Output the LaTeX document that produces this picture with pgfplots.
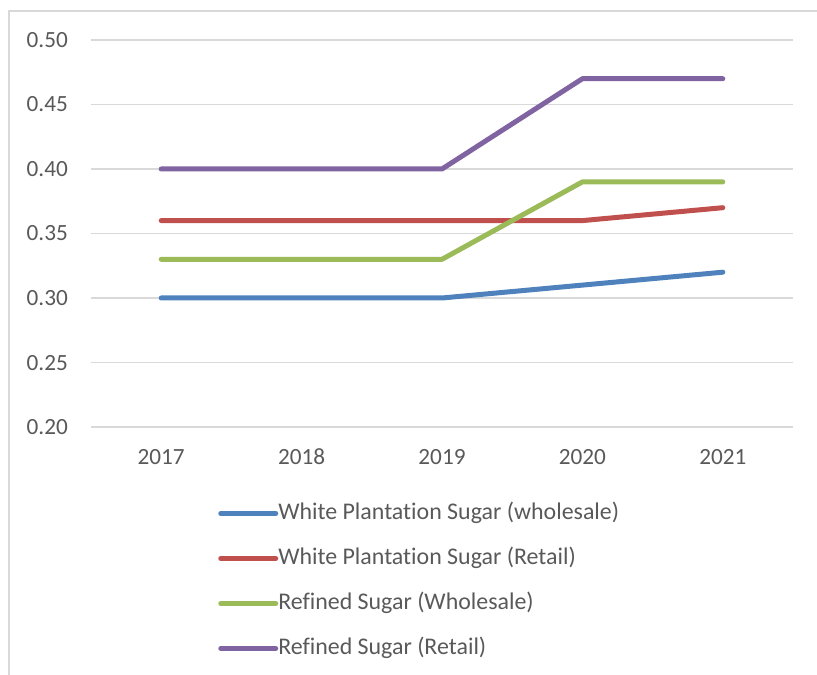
\documentclass[border=0pt]{standalone}
\usepackage{fontspec}
\setmainfont[Ligatures={NoCommon}]{Carlito}
\usepackage{pgfplots}
\pgfplotsset{compat=1.18}
\definecolor{cblue}{HTML}{4F81BD}
\definecolor{cred}{HTML}{C0504D}
\definecolor{cgreen}{HTML}{9BBB59}
\definecolor{cpurple}{HTML}{8064A2}
\definecolor{gridc}{HTML}{D9D9D9}
\definecolor{textc}{HTML}{595959}
\begin{document}
\fontsize{23}{27}\selectfont
\begin{tikzpicture}
\draw[color=gridc, line width=1.3bp] (9bp,-5bp) -- (9bp,664bp) -- (830bp,664bp);
\begin{axis}[
  at={(91bp,248bp)}, anchor=south west,
  scale only axis, width=702bp, height=387bp,
  xmin=-0.5, xmax=4.5, ymin=0.2, ymax=0.5,
  xtick={0,1,2,3,4}, xticklabels={2017,2018,2019,2020,2021},
  ytick={0.2,0.25,0.3,0.35,0.4,0.45,0.5},
  /pgf/number format/assume math mode=true,
  yticklabel={\pgfmathprintnumber[fixed,fixed zerofill,precision=2]{\tick}},
  ymajorgrids, grid style={draw=gridc, line width=1.3bp},
  axis line style={draw=none},
  major tick length=0pt,
  tick label style={font=\fontsize{23.3}{27}\selectfont, text=textc, inner sep=0pt,
    text height=15bp, text depth=0bp},
  yticklabel style={anchor=east},
  xticklabel style={anchor=north},
  yticklabel shift=23bp,
  xticklabel shift=22bp,
  legend cell align=left,
  legend style={at={(axis description cs:0.181,-0.196)}, anchor=north west,
    draw=none, fill=none, inner sep=0pt, row sep=24bp,
    font=\fontsize{24}{28}\selectfont, text=textc,
    nodes={inner sep=0pt, text height=16bp, text depth=5bp},
    /tikz/every odd column/.append style={column sep=0bp}},
  legend image code/.code={\draw[#1, line cap=round] (0bp,0bp) -- (55bp,0bp);},
  every axis plot/.append style={line width=5bp, line cap=round, line join=round},
]
\addplot[cblue] coordinates {(0,0.30) (1,0.30) (2,0.30) (3,0.31) (4,0.32)};
\addlegendentry{White Plantation Sugar (wholesale)}
\addplot[cred] coordinates {(0,0.36) (1,0.36) (2,0.36) (3,0.36) (4,0.37)};
\addlegendentry{White Plantation Sugar (Retail)}
\addplot[cgreen] coordinates {(0,0.33) (1,0.33) (2,0.33) (3,0.39) (4,0.39)};
\addlegendentry{Refined Sugar (Wholesale)}
\addplot[cpurple] coordinates {(0,0.40) (1,0.40) (2,0.40) (3,0.47) (4,0.47)};
\addlegendentry{Refined Sugar (Retail)}
\end{axis}
\pgfresetboundingbox
\useasboundingbox (0bp,0bp) rectangle (817bp,675bp);
\end{tikzpicture}
\end{document}
